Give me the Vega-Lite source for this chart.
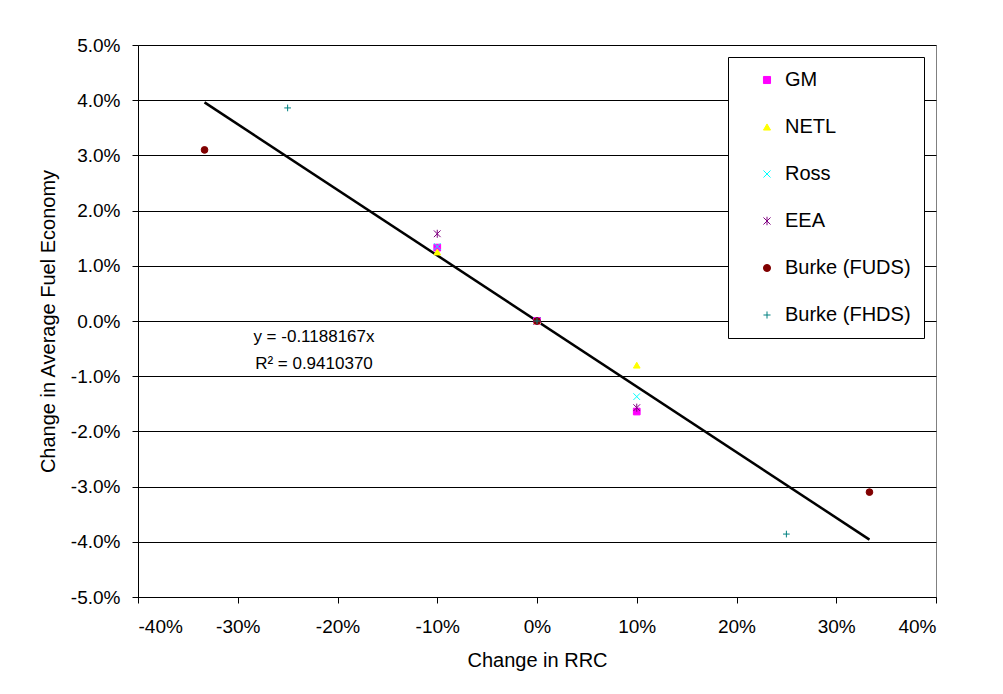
{
  "$schema": "https://vega.github.io/schema/vega-lite/v6.json",
  "autosize": "none",
  "width": 798,
  "height": 552,
  "padding": {"left": 138, "top": 45, "right": 67, "bottom": 97},
  "background": "white",
  "config": {
    "locale": {"number": {"decimal": ".", "thousands": ",", "grouping": [3], "currency": ["$", ""], "minus": "-"}},
    "font": "Liberation Sans",
    "view": {"stroke": "#808080", "strokeWidth": 1},
    "axis": {
      "labelFont": "Liberation Sans",
      "titleFont": "Liberation Sans",
      "labelFontSize": 19,
      "titleFontSize": 20,
      "titleFontWeight": "normal",
      "labelColor": "black",
      "titleColor": "black",
      "domainColor": "black",
      "tickColor": "black",
      "tickSize": 6
    },
    "legend": {
      "orient": "none",
      "legendX": 590,
      "legendY": 12,
      "fillColor": "white",
      "strokeColor": "black",
      "strokeWidth": 1,
      "padding": 13,
      "symbolOffset": 16,
      "labelOffset": 8,
      "labelFont": "Liberation Sans",
      "labelFontSize": 20,
      "labelColor": "black",
      "rowPadding": 27,
      "symbolSize": 50,
      "symbolStrokeWidth": 1,
      "labelLimit": 400
    }
  },
  "layer": [
    {
      "data": {"values": [{"x": -0.3333, "y": 0.0396}, {"x": 0.3333, "y": -0.0396}]},
      "mark": {"type": "line", "color": "black", "strokeWidth": 2.5},
      "encoding": {
        "x": {"field": "x", "type": "quantitative"},
        "y": {"field": "y", "type": "quantitative"}
      }
    },
    {
      "data": {"values": [
        {"series": "GM", "x": -0.1, "y": 0.0133},
        {"series": "GM", "x": 0, "y": 0},
        {"series": "GM", "x": 0.1, "y": -0.0164},
        {"series": "NETL", "x": -0.1, "y": 0.0125},
        {"series": "NETL", "x": 0, "y": 0},
        {"series": "NETL", "x": 0.1, "y": -0.008},
        {"series": "Ross", "x": -0.1, "y": 0.0135},
        {"series": "Ross", "x": 0, "y": 0},
        {"series": "Ross", "x": 0.1, "y": -0.0137},
        {"series": "EEA", "x": -0.1, "y": 0.0158},
        {"series": "EEA", "x": 0, "y": 0},
        {"series": "EEA", "x": 0.1, "y": -0.0157},
        {"series": "Burke (FUDS)", "x": -0.3333, "y": 0.031},
        {"series": "Burke (FUDS)", "x": 0, "y": 0},
        {"series": "Burke (FUDS)", "x": 0.3333, "y": -0.031},
        {"series": "Burke (FHDS)", "x": -0.25, "y": 0.0386},
        {"series": "Burke (FHDS)", "x": 0, "y": 0},
        {"series": "Burke (FHDS)", "x": 0.25, "y": -0.0386}
      ]},
      "mark": {"type": "point", "size": 45, "strokeWidth": 1, "opacity": 1},
      "encoding": {
        "x": {
          "field": "x", "type": "quantitative",
          "scale": {"domain": [-0.4, 0.4], "nice": false, "zero": false},
          "axis": {"values": [-0.4, -0.3, -0.2, -0.1, 0, 0.1, 0.2, 0.3, 0.4], "format": ".0%", "grid": false, "title": "Change in RRC", "labelPadding": 14, "titlePadding": 14}
        },
        "y": {
          "field": "y", "type": "quantitative",
          "scale": {"domain": [-0.05, 0.05], "nice": false, "zero": false},
          "axis": {"values": [-0.05, -0.04, -0.03, -0.02, -0.01, 0, 0.01, 0.02, 0.03, 0.04, 0.05], "format": ".1%", "grid": true, "gridColor": "black", "gridOpacity": 1, "title": "Change in Average Fuel Economy", "labelPadding": 12, "titlePadding": 12}
        },
        "shape": {
          "field": "series", "type": "nominal",
          "scale": {
            "domain": ["GM", "NETL", "Ross", "EEA", "Burke (FUDS)", "Burke (FHDS)"],
            "range": ["square", "triangle-up", "M-1,-1L1,1M-1,1L1,-1", "M-1,-1L1,1M-1,1L1,-1M0,-1.2L0,1.2", "circle", "M0,-1L0,1M-1,0L1,0"]
          },
          "legend": {"title": null, "labelExpr": "datum.label + '\u00a0\u00a0'"}
        },
        "fill": {
          "field": "series", "type": "nominal",
          "scale": {
            "domain": ["GM", "NETL", "Ross", "EEA", "Burke (FUDS)", "Burke (FHDS)"],
            "range": ["#FF00FF", "#FFFF00", "transparent", "transparent", "#800000", "transparent"]
          },
          "legend": {"title": null, "labelExpr": "datum.label + '\u00a0\u00a0'"}
        },
        "stroke": {
          "field": "series", "type": "nominal",
          "scale": {
            "domain": ["GM", "NETL", "Ross", "EEA", "Burke (FUDS)", "Burke (FHDS)"],
            "range": ["#FF00FF", "#FFFF00", "#00FFFF", "#800080", "#800000", "#008080"]
          },
          "legend": {"title": null, "labelExpr": "datum.label + '\u00a0\u00a0'"}
        }
      }
    },
    {
      "data": {"values": [
        {"x": -0.2236, "y": -0.0029, "label": "y = -0.1188167x"},
        {"x": -0.2236, "y": -0.0078, "label": "R² = 0.9410370"}
      ]},
      "mark": {"type": "text", "fontSize": 17, "font": "Liberation Sans", "color": "black"},
      "encoding": {
        "x": {"field": "x", "type": "quantitative"},
        "y": {"field": "y", "type": "quantitative"},
        "text": {"field": "label"}
      }
    }
  ]
}
